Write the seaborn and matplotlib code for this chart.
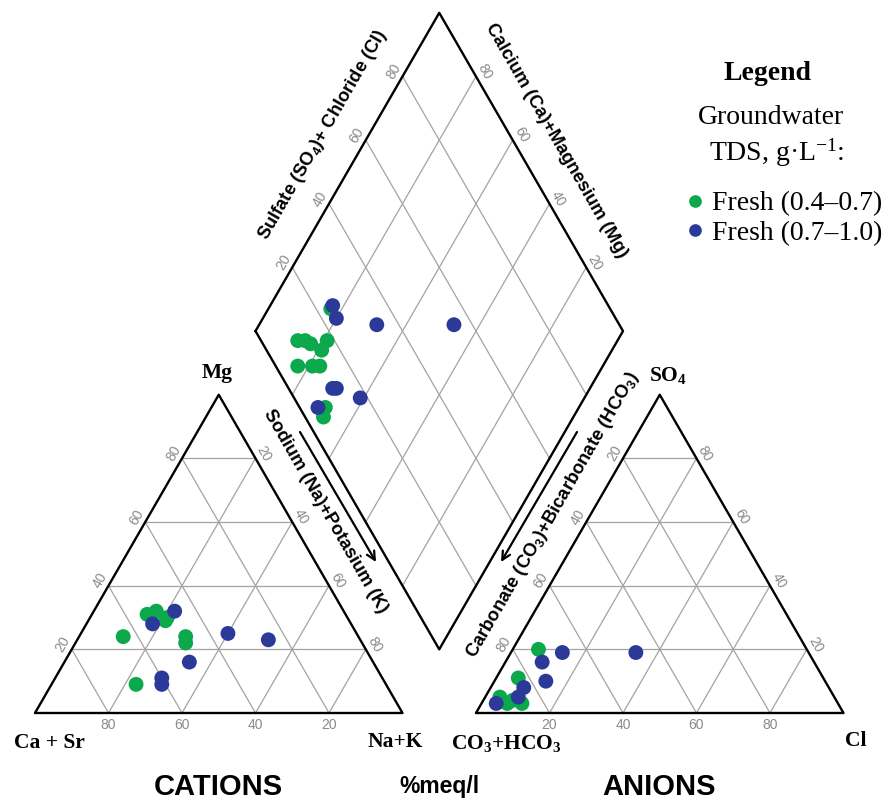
import numpy as np
import pandas as pd
import matplotlib
matplotlib.use("Agg")
import matplotlib.pyplot as plt
import seaborn as sns

# groups (TDS classes)
FRESH_LO = "Fresh (0.4–0.7)"
FRESH_HI = "Fresh (0.7–1.0)"

# cation triangle, %meq/l
cat_ca_lo = [64, 54, 51, 50, 49, 47, 48, 68]
cat_mg_lo = [24, 31, 32, 29, 30, 24, 22, 9]
cat_nak_lo = [12, 15, 17, 21, 21, 29, 30, 23]

cat_ca_hi = [46, 54, 35, 25, 50, 60, 61]
cat_mg_hi = [32, 28, 25, 23, 16, 11, 9]
cat_nak_hi = [22, 18, 40, 52, 34, 29, 30]

# anion triangle, %meq/l
an_hco3_lo = [73, 83, 91, 90, 86, 88]
an_so4_lo = [20, 11, 5, 3, 3, 4]
an_cl_lo = [7, 6, 4, 7, 11, 8]

an_hco3_hi = [67, 47, 74, 76, 83, 86, 93]
an_so4_hi = [19, 19, 16, 10, 8, 5, 3]
an_cl_hi = [14, 34, 10, 14, 9, 9, 4]

# diamond: Na+K and SO4+Cl, %meq/l
dia_nak_lo = [17, 13, 15, 17, 21, 21, 17, 21, 23, 31, 32]
dia_so4cl_lo = [24, 10, 12, 13, 18, 15, 6, 10, 12, 7, 5]

dia_nak_hi = [17, 20, 32, 53, 30, 31, 39, 29]
dia_so4cl_hi = [25, 24, 34, 55, 12, 13, 18, 5]

TICKS = [20, 40, 60, 80]

GREEN = "#0ba84c"
BLUE = "#2b3a98"
GRID = "#a3a3a3"
TICK_C = "#8a8a8a"

H = np.sqrt(3) / 2
GAP = 0.2
AX0 = 1 + GAP                      # x offset of anion triangle
LX, LY = 1 + GAP / 2 - 0.5, GAP / 2 * np.sqrt(3) + H   # diamond left corner

# pixel scale of the layout (for text placement)
S = 367.5
def P(px, py):
    return (px - 35) / S, (713 - py) / S


def tern_xy(right, top, x0=0.0):
    r = np.asarray(right) / 100
    t = np.asarray(top) / 100
    return x0 + r + t / 2, t * H


def dia_xy(nak, so4cl):
    n = np.asarray(nak) / 100
    s = np.asarray(so4cl) / 100
    return LX + 0.5 * (s + n), LY + H * (s - n)


frames = []
for grp, nak, mg in [(FRESH_LO, cat_nak_lo, cat_mg_lo), (FRESH_HI, cat_nak_hi, cat_mg_hi)]:
    x, y = tern_xy(nak, mg)
    frames.append(pd.DataFrame({"x": x, "y": y, "tds": grp}))
for grp, cl, so4 in [(FRESH_LO, an_cl_lo, an_so4_lo), (FRESH_HI, an_cl_hi, an_so4_hi)]:
    x, y = tern_xy(cl, so4, AX0)
    frames.append(pd.DataFrame({"x": x, "y": y, "tds": grp}))
for grp, nak, sc in [(FRESH_LO, dia_nak_lo, dia_so4cl_lo), (FRESH_HI, dia_nak_hi, dia_so4cl_hi)]:
    x, y = dia_xy(nak, sc)
    frames.append(pd.DataFrame({"x": x, "y": y, "tds": grp}))
pts = pd.concat(frames, ignore_index=True)
pts["order"] = (pts["tds"] == FRESH_HI).astype(int)
pts = pts.sort_values("order", kind="stable")

sns.set_style("white")
plt.rcParams["mathtext.default"] = "regular"
plt.rcParams["text.color"] = "black"

fig = plt.figure(figsize=(8.91, 8.01), dpi=100)
ax = fig.add_axes([0, 0, 1, 1])
ax.set_xlim(-35 / S, (891 - 35) / S)
ax.set_ylim((713 - 801) / S, 713 / S)
ax.axis("off")

# ---- frames and grids ----
def line(p, q, **kw):
    ax.plot([p[0], q[0]], [p[1], q[1]], solid_capstyle="butt", **kw)

gkw = dict(color=GRID, lw=0.9, zorder=1)
okw = dict(color="black", lw=1.7, zorder=3)

for x0 in (0.0, AX0):
    for t in np.array(TICKS) / 100:
        line((x0 + t / 2, t * H), (x0 + 1 - t / 2, t * H), **gkw)
        line((x0 + t, 0), (x0 + t + (1 - t) / 2, (1 - t) * H), **gkw)
        line((x0 + 1 - t, 0), (x0 + (1 - t) / 2, (1 - t) * H), **gkw)
    ax.plot([x0, x0 + 1, x0 + 0.5, x0], [0, 0, H, 0], **okw)

for t in TICKS:
    a = dia_xy([0, 100], [t, t])
    line((a[0][0], a[1][0]), (a[0][1], a[1][1]), **gkw)
    b = dia_xy([t, t], [0, 100])
    line((b[0][0], b[1][0]), (b[0][1], b[1][1]), **gkw)
cx, cy = dia_xy([0, 0, 100, 100, 0], [0, 100, 100, 0, 0])
ax.plot(cx, cy, **okw)

# ---- tick labels ----
D = 0.027
tkw = dict(color=TICK_C, fontsize=10, ha="center", va="center", family="Liberation Sans")
nl = np.array([-H, 0.5]) * D
nr = np.array([H, 0.5]) * D
for t in TICKS:
    f = t / 100
    # cations
    ax.text(f, -0.033, str(100 - t), **tkw)
    ax.text(f / 2 + nl[0], f * H + nl[1], str(t), rotation=60, **tkw)
    ax.text(f + (1 - f) / 2 + nr[0], (1 - f) * H + nr[1], str(t), rotation=-60, **tkw)
    # anions
    ax.text(AX0 + f, -0.033, str(t), **tkw)
    ax.text(AX0 + (1 - f) / 2 + nl[0], (1 - f) * H + nl[1], str(t), rotation=60, **tkw)
    ax.text(AX0 + (1 - f) + f / 2 + nr[0], f * H + nr[1], str(t), rotation=-60, **tkw)
    # diamond
    x, y = dia_xy(0, t)
    ax.text(x + nl[0], y + nl[1], str(t), rotation=60, **tkw)
    x, y = dia_xy(t, 100)
    ax.text(x + nr[0], y + nr[1], str(100 - t), rotation=-60, **tkw)

# ---- points ----
sns.scatterplot(data=pts, x="x", y="y", hue="tds", hue_order=[FRESH_LO, FRESH_HI],
                palette={FRESH_LO: GREEN, FRESH_HI: BLUE}, s=115, linewidth=0,
                edgecolor="none", ax=ax, zorder=5)

# ---- labels ----
vkw = dict(family="Liberation Serif", fontweight="bold", fontsize=15.5, ha="center", va="center")
ax.text(*P(217, 373), "Mg", **vkw)
ax.text(*P(49, 743), "Ca + Sr", **vkw)
ax.text(*P(395, 742), "Na+K", **vkw)
ax.text(*P(668, 375), "SO$_4$", **vkw)
ax.text(*P(506, 743), "CO$_3$+HCO$_3$", **vkw)
ax.text(*P(856, 741), "Cl", **vkw)

akw = dict(family="Liberation Sans", fontweight="bold", fontsize=13.2, ha="center", va="center",
           rotation_mode="anchor")
ax.text(*P(323, 135), "Sulfate (SO$_4$)+ Chloride (Cl)", rotation=60, **akw)
ax.text(*P(556, 141), "Calcium (Ca)+Magnesium (Mg)", rotation=-60, **akw)
ax.text(*P(325, 511), "Sodium (Na)+Potasium (K)", rotation=-60, **akw)
ax.text(*P(553, 515), "Carbonate (CO$_3$)+Bicarbonate (HCO$_3$)", rotation=60, **akw)

arw = dict(arrowstyle="->,head_length=0.6,head_width=0.3", lw=1.6, color="black",
           shrinkA=0, shrinkB=0)
ax.annotate("", xy=P(376, 562), xytext=P(300, 432), arrowprops=arw)
ax.annotate("", xy=P(501, 562), xytext=P(577, 432), arrowprops=arw)

bkw = dict(family="Liberation Sans", fontweight="bold", ha="center", va="center")
ax.text(*P(218, 787), "CATIONS", fontsize=21, **bkw)
ax.text(*P(439, 787), "%meq/l", fontsize=16.5, **bkw)
ax.text(*P(659, 787), "ANIONS", fontsize=21, **bkw)

# ---- legend ----
lkw = dict(family="Liberation Serif", fontsize=20, ha="center", va="center")
ax.text(*P(768, 73), "Legend", fontweight="bold", **lkw)
ax.text(*P(771, 117), "Groundwater", **lkw)
ax.text(*P(777, 153), "TDS, g·L$^{-1}$:", **lkw)

sns.move_legend(ax, "upper left", bbox_to_anchor=(687 / 891, 1 - 191 / 801),
                bbox_transform=fig.transFigure, title=None, frameon=False,
                prop={"family": "Liberation Serif", "size": 20}, handlelength=0.6,
                handletextpad=0.3, borderpad=0, borderaxespad=0, labelspacing=0.15,
                markerscale=0.85, labelcolor="black")

fig.savefig("out.png", dpi=100, facecolor="white")
